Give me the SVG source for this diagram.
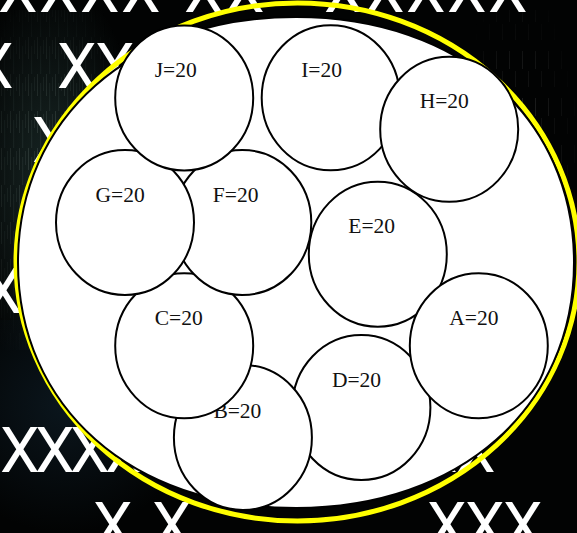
<svg xmlns="http://www.w3.org/2000/svg" width="577" height="533" viewBox="0 0 577 533">
  <defs>
    <pattern id="streaks" x="0" y="0" width="9" height="37" patternUnits="userSpaceOnUse">
      <rect x="1" y="0" width="1" height="22" fill="#7d8e8a" opacity="0.3"/>
      <rect x="4" y="9" width="1.2" height="28" fill="#5d706c" opacity="0.25"/>
      <rect x="7" y="3" width="0.8" height="14" fill="#9aa8a5" opacity="0.2"/>
    </pattern>
    <pattern id="streaks2" x="0" y="0" width="13" height="47" patternUnits="userSpaceOnUse">
      <rect x="2" y="4" width="1" height="18" fill="#a0a0a0" opacity="0.25"/>
      <rect x="8" y="24" width="1" height="16" fill="#808080" opacity="0.2"/>
    </pattern>
    <radialGradient id="fadeL" cx="0.35" cy="0.5" r="0.6">
      <stop offset="0" stop-color="#ffffff"/>
      <stop offset="1" stop-color="#000000"/>
    </radialGradient>
    <radialGradient id="fadeR" cx="0.5" cy="0.45" r="0.55">
      <stop offset="0" stop-color="#ffffff"/>
      <stop offset="1" stop-color="#000000"/>
    </radialGradient>
    <radialGradient id="tealGlow" cx="0.35" cy="0.5" r="0.6">
      <stop offset="0" stop-color="#1b2b29" stop-opacity="0.9"/>
      <stop offset="1" stop-color="#1b2b29" stop-opacity="0"/>
    </radialGradient>
    <radialGradient id="navyGlow" cx="0.3" cy="0.4" r="0.6">
      <stop offset="0" stop-color="#0c1820" stop-opacity="0.9"/>
      <stop offset="1" stop-color="#0c1820" stop-opacity="0"/>
    </radialGradient>
    <mask id="maskL"><rect x="0" y="10" width="150" height="340" fill="url(#fadeL)"/></mask>
    <mask id="maskR"><rect x="460" y="10" width="117" height="320" fill="url(#fadeR)"/></mask>
  </defs>
  <style>
    .bgx { font-family: Roboto, "Liberation Sans", sans-serif; font-size: 63px; fill: #ffffff; }
    .node ellipse { fill: #ffffff; stroke: #000000; stroke-width: 2; }
    .node text { font-family: "Liberation Serif", "Times New Roman", serif; font-size: 21.5px; fill: #111111; }
    .ring { fill: none; stroke: #ffff00; stroke-width: 5; }
    .outer { fill: #ffffff; stroke: #000000; stroke-width: 2; }
  </style>

  <!-- background -->
  <rect x="0" y="0" width="577" height="533" fill="#020303"/>
  <rect x="0" y="10" width="150" height="340" fill="url(#tealGlow)"/>
  <rect x="0" y="10" width="150" height="340" fill="url(#streaks)" mask="url(#maskL)"/>
  <rect x="460" y="10" width="117" height="320" fill="url(#streaks2)" mask="url(#maskR)"/>
  <rect x="0" y="320" width="220" height="213" fill="url(#navyGlow)"/>

  <!-- background letters -->
  <g id="background-letters">
    <text class="bgx" x="-2 39 80 121 184 225 324 365 406 447 488" y="12">XXXXXXXXXXX</text>
    <text class="bgx" x="-26 57 95" y="88">XXX</text>
    <text class="bgx" x="32" y="162">X</text>
    <text class="bgx" x="-17" y="313">X</text>
    <text class="bgx" x="0 35 70 105 418 456" y="472">XXXXXX</text>
    <text class="bgx" x="93 152 427 465 503" y="547">XXXXX</text>
  </g>

  <!-- enclosing shapes -->
  <ellipse class="ring" cx="297.5" cy="262" rx="281.5" ry="259"/>
  <path id="outer" class="outer" d="M574,262.5 C574,407.3 460,508 296,508 C132,508 18,407.3 18,262.5 C18,117.7 132,17 296,17 C460,17 574,117.7 574,262.5 Z"/>

  <g id="connectors"/>

  <g id="node-D" class="node"><ellipse cx="361.4" cy="407.5" rx="69" ry="72.5"/><text x="331.9" y="386.5">D=20</text></g>
  <g id="node-E" class="node"><ellipse cx="377.8" cy="254.2" rx="69" ry="72.5"/><text x="348.3" y="233.2">E=20</text></g>
  <g id="node-I" class="node"><ellipse cx="330.7" cy="97.8" rx="69" ry="72.5"/><text x="301.2" y="76.8">I=20</text></g>
  <g id="node-H" class="node"><ellipse cx="449.2" cy="129.3" rx="69" ry="72.5"/><text x="419.7" y="108.3">H=20</text></g>
  <g id="node-B" class="node"><ellipse cx="242.9" cy="437.5" rx="69" ry="72.5"/><text x="213.4" y="417.5">B=20</text></g>
  <g id="node-C" class="node"><ellipse cx="184.2" cy="345.8" rx="69" ry="72.5"/><text x="154.7" y="324.8">C=20</text></g>
  <g id="node-F" class="node"><ellipse cx="242.3" cy="222.5" rx="69" ry="72.5"/><text x="212.8" y="201.5">F=20</text></g>
  <g id="node-G" class="node"><ellipse cx="125" cy="222.5" rx="69" ry="72.5"/><text x="95.5" y="201.5">G=20</text></g>
  <g id="node-J" class="node"><ellipse cx="184.2" cy="98" rx="69" ry="72.5"/><text x="154.7" y="77">J=20</text></g>
  <g id="node-A" class="node"><ellipse cx="478.8" cy="345.8" rx="69" ry="72.5"/><text x="449.3" y="324.8">A=20</text></g>
</svg>
